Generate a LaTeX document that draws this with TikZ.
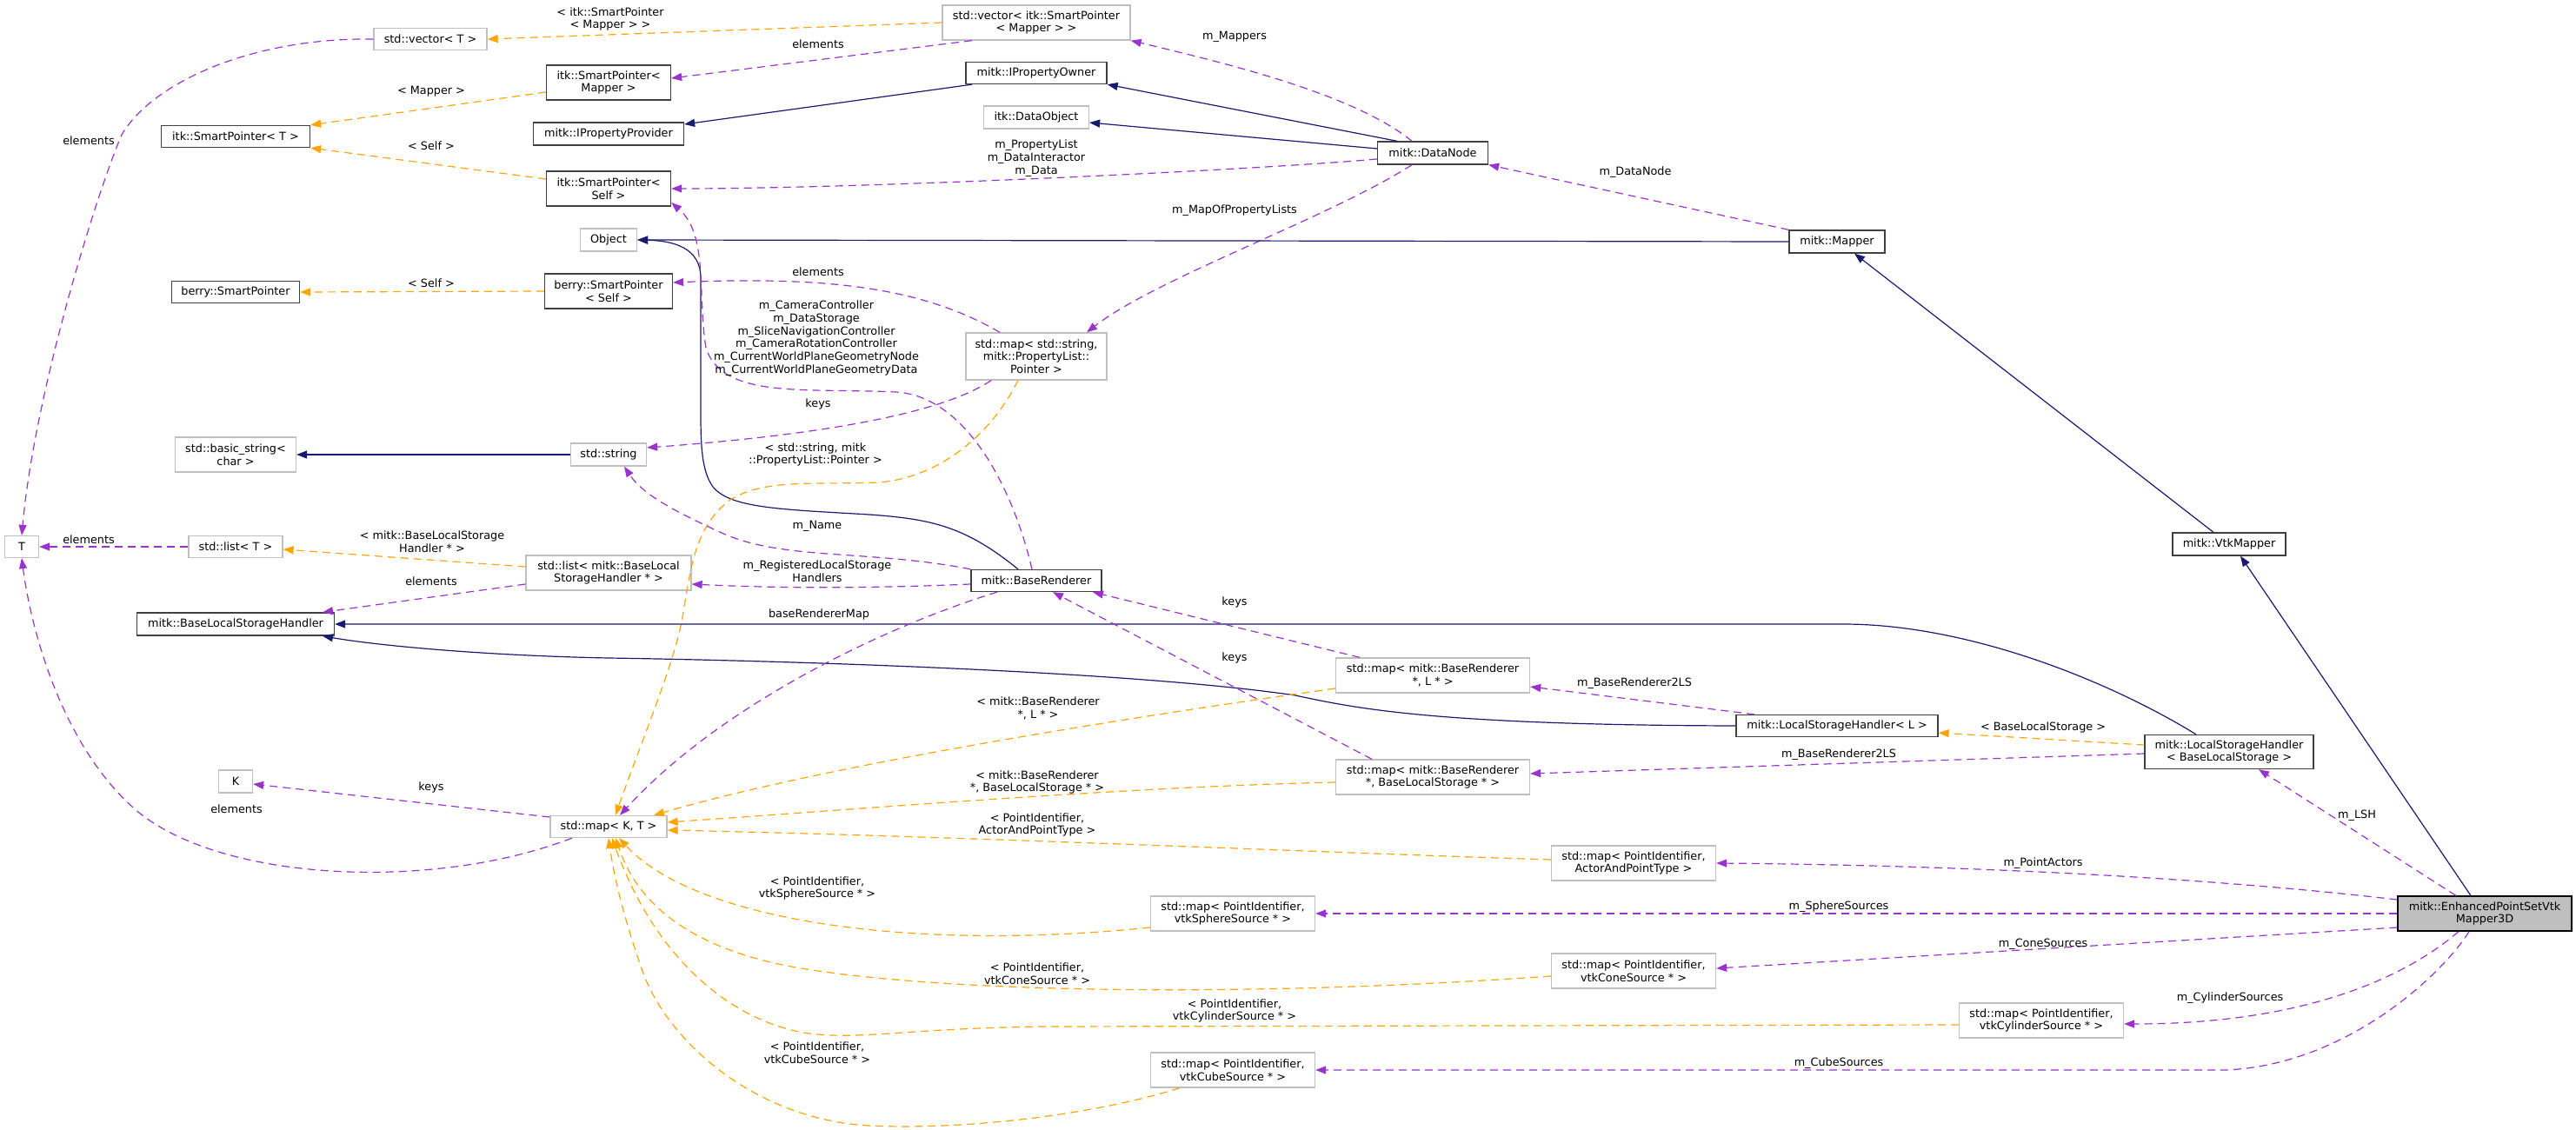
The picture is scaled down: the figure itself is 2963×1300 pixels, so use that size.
\documentclass[tikz,border=0pt]{standalone}
\usepackage{fontspec}
\setmainfont{DejaVu Sans}
\usetikzlibrary{arrows.meta}
\definecolor{inhc}{HTML}{191970}
\definecolor{usec}{HTML}{9A32CD}
\definecolor{tplc}{HTML}{FFA500}
\definecolor{gbord}{HTML}{BFBFBF}
\definecolor{dbord}{HTML}{404040}
\begin{document}
\begin{tikzpicture}[x=1pt,y=-1pt,
  every node/.style={font=\fontsize{12.8}{14.7}\selectfont, align=center, inner sep=0pt},
  cls/.style={draw=dbord, line width=1.3pt, fill=white},
  ucls/.style={draw=gbord, line width=1.3pt, fill=white},
  mainc/.style={draw=black, line width=1.3pt, fill=gbord},
  lbl/.style={text=black},
  inhe/.style={draw=inhc, line width=1.2pt, -{Triangle[length=12pt,width=9pt]}},
  usee/.style={draw=usec, line width=1.2pt, dash pattern=on 9pt off 6pt, -{Triangle[length=12pt,width=9pt]}},
  tple/.style={draw=tplc, line width=1.2pt, dash pattern=on 9pt off 6pt, -{Triangle[length=12pt,width=9pt]}},
]
\useasboundingbox (0,0) rectangle (2963,1300);
% nodes
\node[ucls, minimum width=130pt, minimum height=25pt] (vecT) at (495,45) {std::vector< T >};
\node[cls, minimum width=143pt, minimum height=40pt] (spM) at (700,95) {itk::SmartPointer<\\Mapper >};
\node[cls, minimum width=171pt, minimum height=25pt] (spT) at (271,157) {itk::SmartPointer< T >};
\node[cls, minimum width=173pt, minimum height=26pt] (ipp) at (700,154) {mitk::IPropertyProvider};
\node[cls, minimum width=143pt, minimum height=40pt] (spS) at (700,217) {itk::SmartPointer<\\Self >};
\node[ucls, minimum width=65pt, minimum height=26pt] (obj) at (700,276) {Object};
\node[cls, minimum width=147pt, minimum height=25pt] (bsp) at (271,336) {berry::SmartPointer};
\node[cls, minimum width=147pt, minimum height=40pt] (bspS) at (700,335) {berry::SmartPointer\\< Self >};
\node[ucls, minimum width=216pt, minimum height=40pt] (vecSP) at (1192,26) {std::vector< itk::SmartPointer\\< Mapper > >};
\node[cls, minimum width=162pt, minimum height=25pt] (ipo) at (1192,84) {mitk::IPropertyOwner};
\node[ucls, minimum width=121pt, minimum height=26pt] (dobj) at (1192,135) {itk::DataObject};
\node[ucls, minimum width=162pt, minimum height=54pt] (mapSPL) at (1192,410) {std::map< std::string,\\mitk::PropertyList::\\Pointer >};
\node[cls, minimum width=127pt, minimum height=26pt] (dnode) at (1648,176) {mitk::DataNode};
\node[cls, minimum width=110pt, minimum height=26pt] (mapper) at (2113,278) {mitk::Mapper};
\node[ucls, minimum width=139pt, minimum height=40pt] (bstr) at (271,523) {std::basic\_string<\\char >};
\node[ucls, minimum width=87pt, minimum height=26pt] (sstr) at (700,523) {std::string};
\node[ucls, minimum width=39pt, minimum height=25pt] (T) at (25,629) {T};
\node[ucls, minimum width=108pt, minimum height=25pt] (listT) at (271,629) {std::list< T >};
\node[ucls, minimum width=190pt, minimum height=40pt] (listB) at (700,659) {std::list< mitk::BaseLocal\\StorageHandler * >};
\node[cls, minimum width=227pt, minimum height=26pt] (blsh) at (271,718) {mitk::BaseLocalStorageHandler};
\node[cls, minimum width=150pt, minimum height=25pt] (br) at (1192,668) {mitk::BaseRenderer};
\node[ucls, minimum width=223pt, minimum height=40pt] (mapBRL) at (1648,777) {std::map< mitk::BaseRenderer\\*, L * >};
\node[cls, minimum width=232pt, minimum height=25pt] (lshL) at (2113,835) {mitk::LocalStorageHandler< L >};
\node[cls, minimum width=130pt, minimum height=26pt] (vtkm) at (2564,626) {mitk::VtkMapper};
\node[cls, minimum width=194pt, minimum height=39pt] (lshB) at (2564,865) {mitk::LocalStorageHandler\\< BaseLocalStorage >};
\node[ucls, minimum width=39pt, minimum height=26pt] (K) at (271,899) {K};
\node[ucls, minimum width=134pt, minimum height=25pt] (mapKT) at (700,951) {std::map< K, T >};
\node[ucls, minimum width=223pt, minimum height=40pt] (mapBRB) at (1648,894) {std::map< mitk::BaseRenderer\\*, BaseLocalStorage * >};
\node[ucls, minimum width=189pt, minimum height=40pt] (mapAPT) at (1879,993) {std::map< PointIdentifier,\\ActorAndPointType >};
\node[ucls, minimum width=189pt, minimum height=40pt] (mapSph) at (1418,1051) {std::map< PointIdentifier,\\vtkSphereSource * >};
\node[ucls, minimum width=189pt, minimum height=40pt] (mapCone) at (1879,1117) {std::map< PointIdentifier,\\vtkConeSource * >};
\node[ucls, minimum width=189pt, minimum height=40pt] (mapCyl) at (2348,1174) {std::map< PointIdentifier,\\vtkCylinderSource * >};
\node[ucls, minimum width=189pt, minimum height=40pt] (mapCube) at (1418,1231) {std::map< PointIdentifier,\\vtkCubeSource * >};
\node[mainc, minimum width=200pt, minimum height=40pt] (eps) at (2858,1051) {mitk::EnhancedPointSetVtk\\Mapper3D};

% edges
\draw[tple] (vecSP.west) -- (vecT.east);
\draw[usee] (vecT.west) .. controls (290,43) and (175,95) .. (140,155) .. controls (112,220) and (40,450) .. (T.north);
\draw[tple] ([yshift=-11pt]spM.west) -- (spT.north east);
\draw[usee] ([xshift=-74pt]vecSP.south) -- ([yshift=5pt]spM.east);
\draw[inhe] ([xshift=-74pt]ipo.south) -- ([yshift=11pt]ipp.east);
\draw[tple] ([yshift=11pt]spS.west) -- (spT.south east);
\draw[inhe] ([xshift=-41pt]dnode.north) -- (ipo.south east);
\draw[inhe] ([yshift=5pt]dnode.west) -- ([yshift=-6pt]dobj.east);
\draw[usee] ([xshift=-24pt]dnode.north) .. controls (1560,110) and (1420,75) .. (vecSP.south east);
\draw[usee] ([yshift=-7pt]dnode.west) .. controls (1450,195) and (1000,217) .. (spS.east);
\draw[usee] ([xshift=-24pt]dnode.south) .. controls (1530,250) and (1330,320) .. ([xshift=58pt]mapSPL.north);
\draw[usee] (mapper.north west) -- (dnode.south east);
\draw[inhe] (mapper.west) -- (obj.east);
\draw[inhe] ([xshift=-21pt]br.north) .. controls (1110,605) and (1070,597) .. (1000,592) .. controls (900,586) and (840,585) .. (820,560) .. controls (805,540) and (806,500) .. (806,460) -- (806,320) .. controls (806,285) and (775,277) .. (obj.east);
\draw[tple] (bspS.west) -- (bsp.east);
\draw[usee] ([xshift=-42pt]mapSPL.north) .. controls (1060,330) and (950,318) .. ([yshift=10pt]bspS.east);
\draw[usee] ([xshift=-5pt]br.north) .. controls (1165,560) and (1110,455) .. (1030,451) .. controls (930,446) and (830,460) .. (812,400) .. controls (802,340) and (815,270) .. ([yshift=-16pt]spS.east);
\draw[usee] ([xshift=-52pt]mapSPL.south) .. controls (1070,485) and (880,505) .. ([yshift=8pt]sstr.east);
\draw[tple] ([xshift=-21pt]mapSPL.south) .. controls (1140,500) and (1080,550) .. (1010,555) .. controls (940,558) and (880,550) .. (840,575) .. controls (800,605) and (795,650) .. (785,710) .. controls (777,760) and (735,860) .. ([xshift=8pt]mapKT.north);
\draw[inhe] (sstr.west) -- (bstr.east);
\draw[usee] (br.north west) .. controls (1000,632) and (900,645) .. (830,613) .. controls (780,590) and (740,570) .. ([xshift=18pt]sstr.south);
\draw[usee] (listT.west) -- (T.east);
\draw[tple] ([yshift=7pt]listB.west) -- ([yshift=-3pt]listT.east);
\draw[usee] ([yshift=-13pt]listB.west) -- ([xshift=100pt]blsh.north);
\draw[usee] ([yshift=-4pt]br.west) .. controls (1000,677) and (900,677) .. ([yshift=-13pt]listB.east);
\draw[inhe] ([xshift=-38pt]lshB.north) .. controls (2420,780) and (2260,718) .. (2120,718) -- (blsh.east);
\draw[inhe] (lshL.west) .. controls (1650,834) and (1560,815) .. (1490,800) .. controls (1300,772) and (900,760) .. (700,757) .. controls (550,754) and (430,742) .. ([xshift=100pt]blsh.south);
\draw[usee] ([xshift=-84pt]mapBRL.north) -- ([xshift=65pt]br.south);
\draw[usee] ([xshift=-70pt]mapBRB.north) -- ([xshift=19pt]br.south);
\draw[usee] ([xshift=-45pt]br.south) .. controls (1020,720) and (830,810) .. ([xshift=13pt]mapKT.north);
\draw[tple] ([yshift=-15pt]mapBRL.west) .. controls (1300,825) and (950,880) .. ([xshift=52pt]mapKT.north);
\draw[usee] ([xshift=-95pt]lshL.north) -- ([yshift=-13pt]mapBRL.east);
\draw[tple] ([yshift=8pt]lshB.west) -- ([yshift=-8pt]lshL.east);
\draw[usee] ([yshift=-2pt]lshB.west) -- ([yshift=4pt]mapBRB.east);
\draw[tple] ([yshift=-6pt]mapBRB.west) .. controls (1300,905) and (1000,930) .. ([yshift=5pt]mapKT.east);
\draw[tple] ([yshift=4pt]mapAPT.west) .. controls (1500,980) and (1100,962) .. ([yshift=-4pt]mapKT.east);
\draw[tple] ([yshift=-16pt]mapSph.west) .. controls (1050,1095) and (800,1060) .. ([xshift=12pt]mapKT.south);
\draw[tple] ([yshift=-6pt]mapCone.west) .. controls (1400,1150) and (1050,1140) .. (900,1110) .. controls (780,1085) and (730,1030) .. ([xshift=8pt]mapKT.south);
\draw[tple] ([yshift=-5pt]mapCyl.west) -- (1200,1181) .. controls (1050,1183) and (1000,1195) .. (940,1190) .. controls (860,1183) and (760,1120) .. ([xshift=4pt]mapKT.south);
\draw[tple] ([xshift=-61pt]mapCube.south) .. controls (1250,1285) and (1100,1300) .. (1000,1295) .. controls (870,1288) and (770,1200) .. (740,1120) .. controls (715,1050) and (705,1000) .. (mapKT.south);
\draw[usee] ([yshift=11pt]mapKT.west) -- ([yshift=-3pt]K.east);
\draw[usee] ([xshift=-42pt]mapKT.south) .. controls (500,1025) and (260,1015) .. (160,935) .. controls (70,860) and (35,720) .. (T.south);
\draw[inhe] ([xshift=-18pt]vtkm.north) -- ([xshift=20pt]mapper.south);
\draw[inhe] ([xshift=-16pt]eps.north) -- ([xshift=13pt]vtkm.south);
\draw[usee] ([xshift=-33pt]eps.north) -- ([xshift=34pt]lshB.south);
\draw[usee] ([yshift=16pt]eps.west) .. controls (2500,1005) and (2200,995) .. (mapAPT.east);
\draw[usee] (eps.west) -- (mapSph.east);
\draw[usee] ([yshift=-16pt]eps.west) -- ([yshift=3pt]mapCone.east);
\draw[usee] ([xshift=-30pt]eps.south) .. controls (2760,1130) and (2640,1178) .. ([yshift=-4pt]mapCyl.east);
\draw[usee] ([xshift=-18pt]eps.south) .. controls (2810,1120) and (2700,1225) .. (2560,1231) -- (mapCube.east);

% labels
\node[lbl] (l1) at (702,22) {< itk::SmartPointer\\< Mapper > >};
\node[lbl] (l2) at (102,162) {elements};
\node[lbl] (l3) at (496,105) {< Mapper >};
\node[lbl] (l4) at (941,51) {elements};
\node[lbl] (l5) at (496,168) {< Self >};
\node[lbl] (l6) at (1420,42) {m\_Mappers};
\node[lbl] (l7) at (1192,182) {m\_PropertyList\\m\_DataInteractor\\m\_Data};
\node[lbl] (l8) at (1420,242) {m\_MapOfPropertyLists};
\node[lbl] (l9) at (1881,198) {m\_DataNode};
\node[lbl] (l10) at (496,326) {< Self >};
\node[lbl] (l11) at (941,313) {elements};
\node[lbl] (l12) at (939,389) {m\_CameraController\\m\_DataStorage\\m\_SliceNavigationController\\m\_CameraRotationController\\m\_CurrentWorldPlaneGeometryNode\\m\_CurrentWorldPlaneGeometryData};
\node[lbl] (l13) at (941,465) {keys};
\node[lbl] (l14) at (938,523) {< std::string, mitk\\::PropertyList::Pointer >};
\node[lbl] (l15) at (940,605) {m\_Name};
\node[lbl] (l16) at (102,621) {elements};
\node[lbl] (l17) at (497,623) {< mitk::BaseLocalStorage\\Handler * >};
\node[lbl] (l18) at (496,669) {elements};
\node[lbl] (l19) at (940,657) {m\_RegisteredLocalStorage\\Handlers};
\node[lbl] (l20) at (942,707) {baseRendererMap};
\node[lbl] (l21) at (1420,693) {keys};
\node[lbl] (l22) at (1420,757) {keys};
\node[lbl] (l23) at (1194,815) {< mitk::BaseRenderer\\*, L * >};
\node[lbl] (l24) at (1880,786) {m\_BaseRenderer2LS};
\node[lbl] (l25) at (2350,837) {< BaseLocalStorage >};
\node[lbl] (l26) at (2115,868) {m\_BaseRenderer2LS};
\node[lbl] (l27) at (1193,900) {< mitk::BaseRenderer\\*, BaseLocalStorage * >};
\node[lbl] (l28) at (496,906) {keys};
\node[lbl] (l29) at (272,931) {elements};
\node[lbl] (l30) at (1193,949) {< PointIdentifier,\\ActorAndPointType >};
\node[lbl] (l31) at (2711,938) {m\_LSH};
\node[lbl] (l32) at (2350,993) {m\_PointActors};
\node[lbl] (l33) at (940,1022) {< PointIdentifier,\\vtkSphereSource * >};
\node[lbl] (l34) at (2115,1043) {m\_SphereSources};
\node[lbl] (l35) at (2350,1086) {m\_ConeSources};
\node[lbl] (l36) at (1193,1120) {< PointIdentifier,\\vtkConeSource * >};
\node[lbl] (l37) at (2565,1148) {m\_CylinderSources};
\node[lbl] (l38) at (1420,1163) {< PointIdentifier,\\vtkCylinderSource * >};
\node[lbl] (l39) at (940,1211) {< PointIdentifier,\\vtkCubeSource * >};
\node[lbl] (l40) at (2115,1223) {m\_CubeSources};
\end{tikzpicture}
\end{document}
